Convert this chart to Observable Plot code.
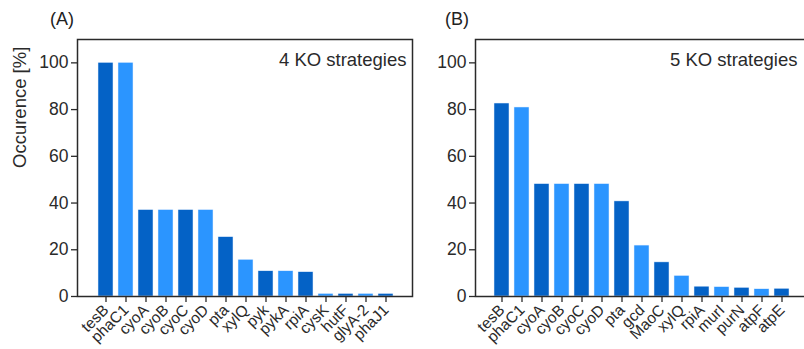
<!DOCTYPE html>
<html>
<head>
<meta charset="utf-8">
<script src="https://cdn.jsdelivr.net/npm/d3@7"></script>
<script src="https://cdn.jsdelivr.net/npm/@observablehq/plot@0.6"></script>
<style>
  html, body { margin: 0; padding: 0; background: #fff; overflow: hidden; }
  #wrap { position: relative; width: 804px; height: 349px; overflow: hidden; font-family: Arial, "Liberation Sans", sans-serif; }
  #wrap svg { position: absolute; top: 0; overflow: visible; }
  .panel-label { position: absolute; top: 9px; font-size: 18px; color: #222; }
</style>
</head>
<body>
<div id="wrap">
  <div class="panel-label" style="left:50px">(A)</div>
  <div class="panel-label" style="left:445px">(B)</div>
</div>
<script>
const genesA = ["tesB","phaC1","cyoA","cyoB","cyoC","cyoD","pta","xylQ","pyk","pykA","rpiA","cysK","hutF","glyA-2","phaJ1"];
const valuesA = [100, 100, 37, 37, 37, 37, 25.4, 15.7, 10.8, 10.8, 10.4, 1.1, 1.1, 1.1, 1.1];
const genesB = ["tesB","phaC1","cyoA","cyoB","cyoC","cyoD","pta","gcd","MaoC","xylQ","rpiA","murI","purN","atpF","atpE"];
const valuesB = [82.6, 80.9, 48.1, 48.1, 48.1, 48.1, 40.7, 21.8, 14.6, 8.8, 4.2, 4.0, 3.7, 3.1, 3.3];
const titleA = "4 KO strategies";
const titleB = "5 KO strategies";
const yLabel = "Occurence [%]";
const yTicks = [0, 20, 40, 60, 80, 100];

const DARK = "#0462c6";
const LIGHT = "#2b95ff";
const INK = "#2a2a2a";

function panel(genes, values, title, opts) {
  const data = genes.map((g, i) => ({gene: g, value: values[i], shade: i % 2}));
  const marks = [
    Plot.barY(data, {x: "gene", y: "value", fill: d => d.shade ? LIGHT : DARK, stroke: "#e8f2ff", strokeWidth: 0.5}),
    Plot.frame({stroke: INK, strokeWidth: 1.5}),
    Plot.axisX({tickSize: 6, tickRotate: -45, fontSize: 15.5, tickPadding: 5, label: null, stroke: INK, strokeWidth: 1.3}),
    Plot.axisY({ticks: yTicks, tickSize: 6, fontSize: 17.5, tickPadding: 3, stroke: INK, strokeWidth: 1.3, label: null}),
    Plot.text([title], {frameAnchor: "top-right", text: d => d, dx: opts.titleDx, dy: 13, fontSize: 18.5, fill: INK})
  ];
  if (opts.yLabel) {
    marks.push(Plot.text([opts.yLabel], {frameAnchor: "left", text: d => d, rotate: -90, dx: -57, fontSize: 18.5, fill: INK}));
  }
  return Plot.plot({
    width: opts.width,
    height: 349,
    marginLeft: opts.marginLeft,
    marginRight: opts.marginRight,
    marginTop: 39,
    marginBottom: 53,
    style: {fontFamily: 'Arial, "Liberation Sans", sans-serif', color: INK, background: "transparent", overflow: "visible"},
    x: {domain: genes, insetLeft: opts.insetLeft, insetRight: opts.insetRight, paddingInner: 0.23, paddingOuter: 0.115},
    y: {domain: [0, 110]},
    marks
  });
}

const wrap = document.getElementById("wrap");
const a = panel(genesA, valuesA, titleA, {width: 420, marginLeft: 77, marginRight: 8, insetLeft: 12.5, insetRight: 10, yLabel, titleDx: -6});
a.style.left = "0px";
const b = panel(genesB, valuesB, titleB, {width: 392, marginLeft: 55, marginRight: 2, insetLeft: 10.5, insetRight: 12, yLabel: null, titleDx: -13});
b.style.left = "420px";
wrap.appendChild(a);
wrap.appendChild(b);
</script>
</body>
</html>
